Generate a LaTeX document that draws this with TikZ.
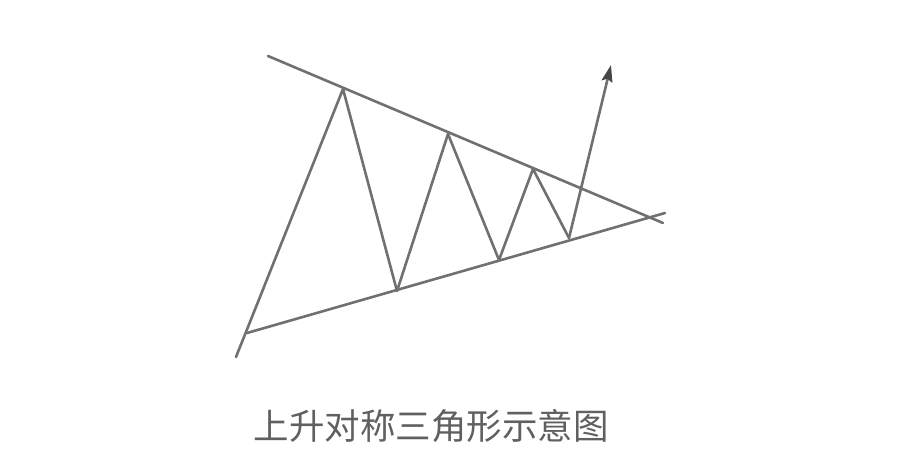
\documentclass[tikz,border=0pt]{standalone}
\usepackage{fontspec}
\newfontfamily\cjk{Noto Sans CJK SC}
\usetikzlibrary{arrows.meta}
\definecolor{penGray}{RGB}{112,112,112}
\definecolor{tipGray}{RGB}{70,70,70}
\definecolor{textGray}{RGB}{96,96,96}
\tikzset{
  pen/.style={draw=penGray, line width=2.6pt, line cap=round, line join=round},
}
\begin{document}
\begin{tikzpicture}[x=1pt,y=1pt,yscale=-1,xscale=1]
        \useasboundingbox (0,0) rectangle (900,476);
        % Points
        \coordinate (upStart) at (268,56);
        \coordinate (upEnd) at (663,223);
        \coordinate (lowStart) at (247,333);
        \coordinate (lowEnd) at (665,213);
        \coordinate (legFoot) at (236,357);
        \coordinate (peakA) at (343,89);
        \coordinate (troughA) at (397,291);
        \coordinate (peakB) at (448,134);
        \coordinate (troughB) at (499,260);
        \coordinate (peakC) at (533,169);
        \coordinate (troughC) at (569,238);
        \coordinate (breakTip) at (611,65);
        % Connection
        \draw [pen] (upStart) -- (upEnd) ;
        % Connection
        \draw [pen] (lowStart) -- (lowEnd) ;
        % Connection
        \draw [pen] (legFoot) -- (peakA) -- (troughA) -- (peakB) -- (troughB) -- (peakC) -- (troughC) ;
        % Connection
        \draw [pen, -{Stealth[length=17pt,width=11pt,inset=3pt,color=tipGray]}] (troughC) -- (breakTip) ;
        % Text Node
        \node (caption) at (431,426) [text=textGray, font=\cjk\fontsize{35.5}{40}\selectfont] {上升对称三角形示意图};
    \end{tikzpicture}
\end{document}
